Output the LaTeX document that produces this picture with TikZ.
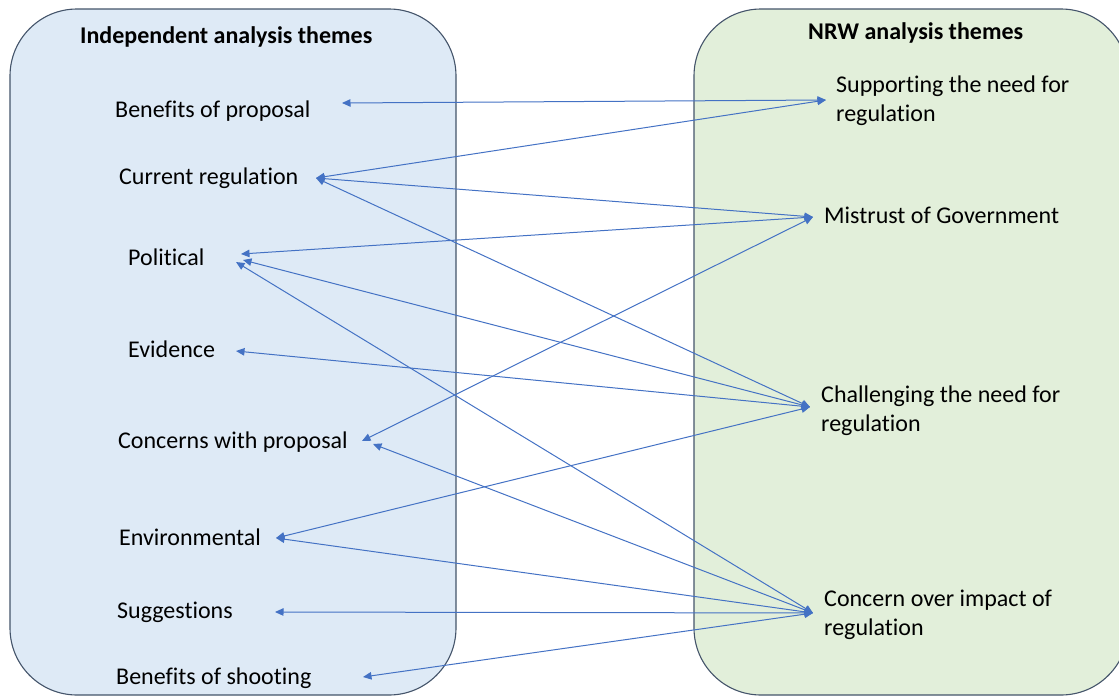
\documentclass[tikz,border=0pt]{standalone}
\usepackage{fontspec}
\setmainfont{Carlito}[Ligatures=NoCommon]
\usetikzlibrary{arrows.meta}
\definecolor{leftfill}{HTML}{DEEAF6}
\definecolor{rightfill}{HTML}{E2EFDA}
\definecolor{panelline}{HTML}{44546A}
\definecolor{linkc}{HTML}{4472C4}
\begin{document}
\begin{tikzpicture}[x=1pt,y=-1pt,
  panel/.style={draw=panelline, line width=1.1pt, rounded corners=67pt},
  theme/.style={anchor=base west, inner sep=0pt, align=left,
    font=\fontsize{24}{29}\selectfont},
  heading/.style={theme, font=\fontsize{24}{29}\selectfont\bfseries},
  link/.style={draw=linkc, line width=1pt,
    {Triangle[length=8.5pt,width=7.5pt]}-{Triangle[length=8.5pt,width=7.5pt]}}]
\useasboundingbox (0,0) rectangle (1119,696);

% two theme panels
\path[panel, fill=leftfill] (10,9) rectangle (456,695);
\path[panel, fill=rightfill] (694,9) rectangle (1128,695);

% headings
\node[heading] (hl) at (80,43) {Independent analysis themes};
\node[heading] (hr) at (808,39) {NRW analysis themes};

% independent analysis themes
\node[theme] (bp) at (115,117) {Benefits of proposal};
\node[theme] (cr) at (119,184) {Current regulation};
\node[theme] (po) at (128,265) {Political};
\node[theme] (ev) at (128,357) {Evidence};
\node[theme] (cw) at (118,448) {Concerns with proposal};
\node[theme] (en) at (119,545) {Environmental};
\node[theme] (su) at (117,618) {Suggestions};
\node[theme] (bs) at (116,684) {Benefits of shooting};

% NRW analysis themes (base anchor sits on the last line)
\node[theme] (sp) at (836,121) {Supporting the need for\\regulation};
\node[theme] (mg) at (824,223) {Mistrust of Government};
\node[theme] (ch) at (821,431) {Challenging the need for\\regulation};
\node[theme] (co) at (824,635) {Concern over impact of\\regulation};

% connector end points beside the labels
\coordinate (bpT) at (342,103);
\coordinate (crT) at (316,178);
\coordinate (poA) at (241,254);
\coordinate (poB) at (243,260);
\coordinate (poC) at (236,262);
\coordinate (evT) at (236,351);
\coordinate (cwA) at (362,441);
\coordinate (cwB) at (373,444);
\coordinate (enT) at (276,538);
\coordinate (suT) at (275,612);
\coordinate (bsT) at (363,677);
\coordinate (spT) at (826,100);
\coordinate (mgT) at (813,217);
\coordinate (chT) at (810,407);
\coordinate (coT) at (813,613);

% links between the two sets of themes
\draw[link] (bpT) -- (spT);
\draw[link] (crT) -- (spT);
\draw[link] (crT) -- (mgT);
\draw[link] (crT) -- (chT);
\draw[link] (poA) -- (mgT);
\draw[link] (poB) -- (chT);
\draw[link] (poC) -- (coT);
\draw[link] (evT) -- (chT);
\draw[link] (cwA) -- (mgT);
\draw[link] (cwB) -- (coT);
\draw[link] (enT) -- (chT);
\draw[link] (enT) -- (coT);
\draw[link] (suT) -- (coT);
\draw[link] (bsT) -- (coT);
\end{tikzpicture}
\end{document}
